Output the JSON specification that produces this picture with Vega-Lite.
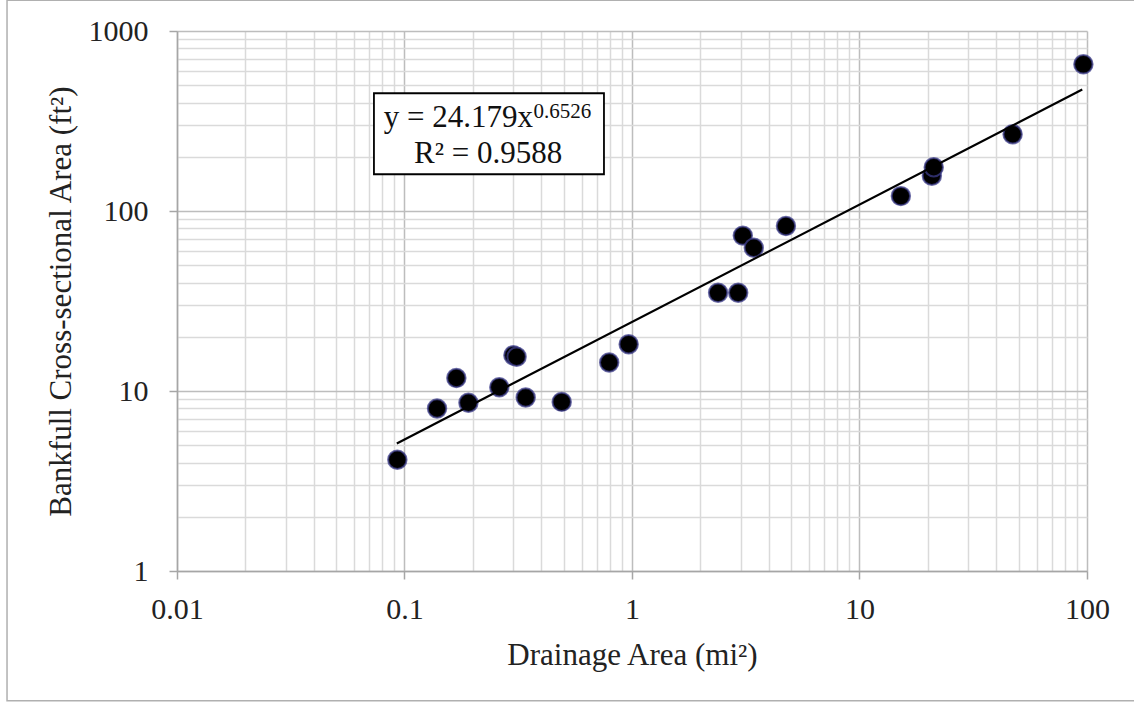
{
  "$schema": "https://vega.github.io/schema/vega-lite/v6.json",
  "width": 910,
  "height": 540,
  "autosize": "none",
  "padding": {"left": 177, "top": 31, "right": 47, "bottom": 131},
  "background": "white",
  "config": {"view": {"stroke": null}},
  "datasets": {
    "pts": [
      {"area": 0.093, "xs": 4.15},
      {"area": 0.139, "xs": 8.0},
      {"area": 0.169, "xs": 11.8},
      {"area": 0.191, "xs": 8.6},
      {"area": 0.261, "xs": 10.5},
      {"area": 0.301, "xs": 15.8},
      {"area": 0.311, "xs": 15.5},
      {"area": 0.341, "xs": 9.2},
      {"area": 0.491, "xs": 8.7},
      {"area": 0.794, "xs": 14.4},
      {"area": 0.967, "xs": 18.2},
      {"area": 2.39, "xs": 35.1},
      {"area": 2.93, "xs": 35.1},
      {"area": 3.07, "xs": 73.0},
      {"area": 3.43, "xs": 62.5},
      {"area": 4.75, "xs": 82.5},
      {"area": 15.2, "xs": 121},
      {"area": 20.8, "xs": 157},
      {"area": 21.2, "xs": 175},
      {"area": 47.1, "xs": 267},
      {"area": 96.4, "xs": 653}
    ],
    "trend": [
      {"area": 0.0925, "xs": 5.11},
      {"area": 95.3, "xs": 473}
    ]
  },
  "layer": [
    {
      "data": {"values": [{}]},
      "mark": {"type": "rect", "fill": null, "stroke": "#b0b0b0", "strokeWidth": 1.5, "clip": false},
      "encoding": {
        "x": {"datum": 0.00179, "type": "quantitative", "scale": {"type": "log", "domain": [0.01, 100], "nice": false}},
        "x2": {"datum": 900},
        "y": {"datum": 1480, "type": "quantitative", "scale": {"type": "log", "domain": [1, 1000], "nice": false}},
        "y2": {"datum": 0.19}
      }
    },
    {
      "data": {"name": "pts"},
      "mark": {"type": "point", "filled": true, "fill": "black", "stroke": "#3c3c8a", "strokeWidth": 2, "strokeOpacity": 0.75, "size": 340, "opacity": 1},
      "encoding": {
        "x": {
          "field": "area", "type": "quantitative",
          "scale": {"type": "log", "domain": [0.01, 100], "nice": false},
          "axis": {
            "values": [0.01,0.02,0.03,0.04,0.05,0.06,0.07,0.08,0.09,0.1,0.2,0.3,0.4,0.5,0.6,0.7,0.8,0.9,1,2,3,4,5,6,7,8,9,10,20,30,40,50,60,70,80,90,100],
            "labelExpr": "abs(log(datum.value)/LN10 - round(log(datum.value)/LN10)) < 1e-6 ? format(datum.value, '~g') : ''",
            "labelFont": "Liberation Serif", "labelFontSize": 30, "labelColor": "#222222",
            "labelPadding": 15, "labelFlush": false, "labelOverlap": false,
            "tickSize": 8, "tickColor": "#a6a6a6", "tickWidth": 1.5,
            "tickOpacity": {"condition": {"test": "abs(log(datum.value)/LN10 - round(log(datum.value)/LN10)) < 1e-6", "value": 1}, "value": 0},
            "grid": true,
            "gridColor": {"condition": {"test": "abs(log(datum.value)/LN10 - round(log(datum.value)/LN10)) < 1e-6", "value": "#bdbdbd"}, "value": "#dadada"},
            "gridWidth": 1.5,
            "domainColor": "#a6a6a6", "domainWidth": 1.5,
            "title": "Drainage Area (mi²)",
            "titleFont": "Liberation Serif", "titleFontSize": 31, "titleFontWeight": "normal", "titleColor": "#222222",
            "titleX": 455, "titleY": 93, "titleBaseline": "alphabetic", "titleAlign": "center"
          }
        },
        "y": {
          "field": "xs", "type": "quantitative",
          "scale": {"type": "log", "domain": [1, 1000], "nice": false},
          "axis": {
            "values": [1,2,3,4,5,6,7,8,9,10,20,30,40,50,60,70,80,90,100,200,300,400,500,600,700,800,900,1000],
            "labelExpr": "abs(log(datum.value)/LN10 - round(log(datum.value)/LN10)) < 1e-6 ? format(datum.value, '~g') : ''",
            "labelFont": "Liberation Serif", "labelFontSize": 30, "labelColor": "#222222",
            "labelPadding": 21, "labelFlush": false, "labelOverlap": false,
            "tickSize": 8, "tickColor": "#a6a6a6", "tickWidth": 1.5,
            "tickOpacity": {"condition": {"test": "abs(log(datum.value)/LN10 - round(log(datum.value)/LN10)) < 1e-6", "value": 1}, "value": 0},
            "grid": true,
            "gridColor": {"condition": {"test": "abs(log(datum.value)/LN10 - round(log(datum.value)/LN10)) < 1e-6", "value": "#bdbdbd"}, "value": "#dadada"},
            "gridWidth": 1.5,
            "domainColor": "#a6a6a6", "domainWidth": 1.5,
            "title": "Bankfull Cross-sectional Area (ft²)",
            "titleFont": "Liberation Serif", "titleFontSize": 31, "titleFontWeight": "normal", "titleColor": "#222222",
            "titleX": -107, "titleY": 270, "titleBaseline": "alphabetic", "titleAlign": "center", "titleAngle": -90
          }
        }
      }
    },
    {
      "data": {"name": "trend"},
      "mark": {"type": "line", "color": "black", "strokeWidth": 2.2},
      "encoding": {
        "x": {"field": "area", "type": "quantitative"},
        "y": {"field": "xs", "type": "quantitative"}
      }
    },
    {
      "data": {"values": [{}]},
      "mark": {"type": "rect", "fill": "white", "stroke": "black", "strokeWidth": 1.8},
      "encoding": {
        "x": {"datum": 0.0734, "type": "quantitative"},
        "x2": {"datum": 0.753},
        "y": {"datum": 451, "type": "quantitative"},
        "y2": {"datum": 160}
      }
    },
    {
      "data": {"values": [{"label": "y = 24.179x"}]},
      "mark": {"type": "text", "font": "Liberation Serif", "fontSize": 31, "align": "right", "baseline": "alphabetic", "color": "#111111"},
      "encoding": {
        "x": {"datum": 0.367, "type": "quantitative"},
        "y": {"datum": 293, "type": "quantitative"},
        "text": {"field": "label"}
      }
    },
    {
      "data": {"values": [{"label": "0.6526"}]},
      "mark": {"type": "text", "font": "Liberation Serif", "fontSize": 21, "align": "left", "baseline": "alphabetic", "color": "#111111"},
      "encoding": {
        "x": {"datum": 0.369, "type": "quantitative"},
        "y": {"datum": 329, "type": "quantitative"},
        "text": {"field": "label"}
      }
    },
    {
      "data": {"values": [{"label": "R² = 0.9588"}]},
      "mark": {"type": "text", "font": "Liberation Serif", "fontSize": 31, "align": "center", "baseline": "alphabetic", "color": "#111111"},
      "encoding": {
        "x": {"datum": 0.233, "type": "quantitative"},
        "y": {"datum": 185, "type": "quantitative"},
        "text": {"field": "label"}
      }
    }
  ]
}
